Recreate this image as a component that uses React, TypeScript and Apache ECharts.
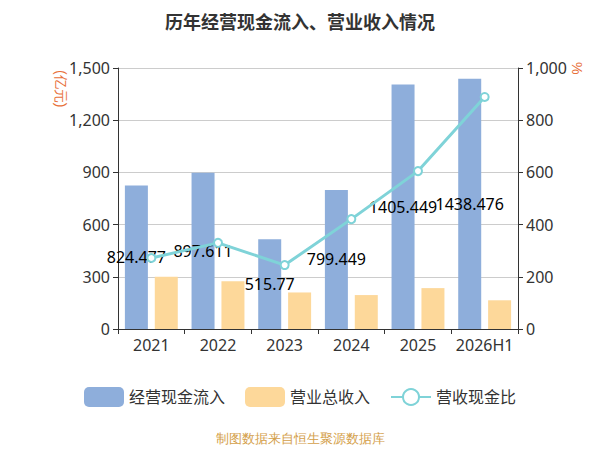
import React, { useEffect, useRef } from 'react';
import * as echarts from 'echarts';

const years = ['2021', '2022', '2023', '2024', '2025', '2026H1'];
const cashInflow = [824.477, 897.611, 515.77, 799.449, 1405.449, 1438.476];
const revenue = [300, 275, 210, 195, 235, 165];
const ratio = [272, 330, 245, 421, 605, 889];

const App: React.FC = () => {
  const ref = useRef<HTMLDivElement>(null);

  useEffect(() => {
    if (!ref.current) return;
    const chart = echarts.init(ref.current, null, { renderer: 'svg' });
    chart.setOption({
      animation: false,
      textStyle: { fontFamily: 'Noto Sans, Noto Sans CJK SC, sans-serif' },
      title: {
        text: '历年经营现金流入、营业收入情况',
        left: 'center',
        top: 0,
        textStyle: { fontSize: 18, fontWeight: 'bold', color: '#333' },
      },
      grid: { left: 110, right: 74, top: 60, bottom: 121 },
      legend: {
        bottom: 38,
        itemWidth: 40,
        itemHeight: 20,
        itemGap: 20,
        textStyle: { fontSize: 16, color: '#333' },
        data: ['经营现金流入', '营业总收入', '营收现金比'],
      },
      xAxis: {
        type: 'category',
        data: years,
        axisLine: { lineStyle: { color: '#333' } },
        axisTick: { show: true },
        axisLabel: { fontSize: 16, color: '#333', interval: 0 },
      },
      yAxis: [
        {
          type: 'value',
          min: 0,
          max: 1500,
          interval: 300,
          axisLine: { show: true, lineStyle: { color: '#333' } },
          axisTick: { show: true },
          axisLabel: { fontSize: 16, color: '#333' },
          splitLine: { lineStyle: { color: '#ccc' } },
        },
        {
          type: 'value',
          min: 0,
          max: 1000,
          interval: 200,
          axisLine: { show: true, lineStyle: { color: '#333' } },
          axisTick: { show: true },
          axisLabel: { fontSize: 16, color: '#333' },
          splitLine: { show: false },
        },
      ],
      series: [
        {
          name: '经营现金流入',
          type: 'bar',
          data: cashInflow,
          barWidth: 23,
          barGap: '30%',
          itemStyle: { color: '#8eaedb' },
          label: { show: true, position: 'inside', color: '#000', fontSize: 16 },
        },
        {
          name: '营业总收入',
          type: 'bar',
          data: revenue,
          barWidth: 23,
          itemStyle: { color: '#fdd89a' },
        },
        {
          name: '营收现金比',
          type: 'line',
          yAxisIndex: 1,
          data: ratio,
          symbol: 'circle',
          symbolSize: 8,
          itemStyle: { color: '#fff', borderColor: '#7fd3d8', borderWidth: 2 },
          lineStyle: { color: '#7fd3d8', width: 3 },
        },
      ],
      graphic: [
        {
          type: 'text',
          left: 'center',
          top: 424,
          style: { text: '制图数据来自恒生聚源数据库', fill: '#d4a04a', fontSize: 13 },
        },
        {
          type: 'text',
          x: 60,
          y: 62,
          rotation: -Math.PI / 2,
          style: { text: '(亿元)', fill: '#e8703a', fontSize: 14 },
        },
        {
          type: 'text',
          x: 576,
          y: 54,
          rotation: -Math.PI / 2,
          style: { text: '%', fill: '#e8703a', fontSize: 14 },
        },
      ],
    });
    return () => chart.dispose();
  }, []);

  return <div ref={ref} style={{ width: 584, height: 442 }} />;
};

export default App;
